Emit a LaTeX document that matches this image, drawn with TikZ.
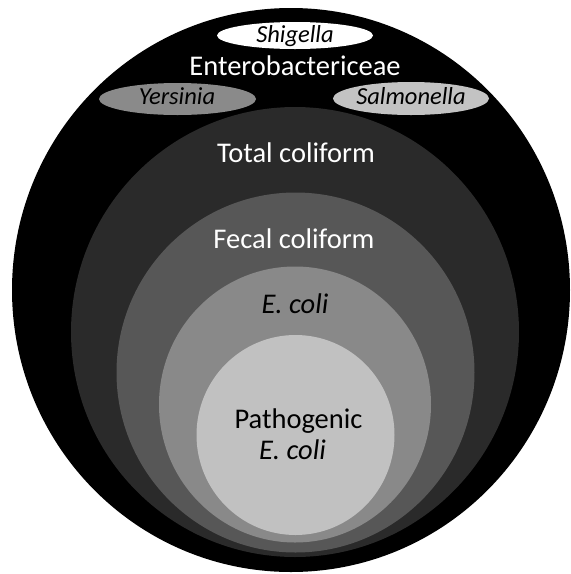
\documentclass[tikz,border=0pt]{standalone}
\usepackage{fontspec}
\setmainfont{Carlito}
\definecolor{cOuter}{HTML}{000000}
\definecolor{cTotal}{HTML}{2A2A2A}
\definecolor{cFecal}{HTML}{575757}
\definecolor{cEcoli}{HTML}{898989}
\definecolor{cPath}{HTML}{C1C1C1}
\definecolor{cYers}{HTML}{8A8A8A}
\definecolor{cSalm}{HTML}{C3C3C3}
\tikzset{
  biglabel/.style={font=\fontsize{28.5}{34}\selectfont, anchor=base, inner sep=0pt},
  whitelabel/.style={biglabel, text=white},
  darklabel/.style={biglabel, text=black},
  genuslabel/.style={font=\fontsize{24.5}{29}\selectfont\itshape, anchor=base, inner sep=0pt, text=black},
}
\begin{document}
\begin{tikzpicture}[x=1pt,y=-1pt]
\useasboundingbox (0,0) rectangle (571,574);
% nested regions
\fill[cOuter] (291,290) ellipse [x radius=279, y radius=282];
\fill[cTotal] (295,332) ellipse [x radius=224, y radius=225];
\fill[cFecal] (295.5,372.5) ellipse [x radius=179, y radius=180];
\fill[cEcoli] (295,404.5) ellipse [x radius=136, y radius=138];
\fill[cPath] (295.5,435) ellipse [x radius=99, y radius=100];
% genus ellipses
\fill[white] (295,35.5) ellipse [x radius=78, y radius=13.5];
\fill[cYers] (177.5,99) ellipse [x radius=78.5, y radius=16];
\fill[cSalm] (411,98.5) ellipse [x radius=78, y radius=16.5];
% labels
\node[genuslabel] (shig) at (295,42) {Shigella};
\node[whitelabel] (entero) at (295,75) {Enterobactericeae};
\node[genuslabel] (yers) at (177,104) {Yersinia};
\node[genuslabel] (salm) at (411,104) {Salmonella};
\node[whitelabel] (total) at (296,162) {Total coliform};
\node[whitelabel] (fecal) at (294,248) {Fecal coliform};
\node[darklabel, font=\fontsize{28.5}{34}\selectfont\itshape] (ecoli) at (295,313) {E. coli};
\node[darklabel] (path) at (298.5,428) {Pathogenic};
\node[darklabel, font=\fontsize{28.5}{34}\selectfont\itshape] (pecoli) at (292.5,459) {E. coli};
\end{tikzpicture}
\end{document}
